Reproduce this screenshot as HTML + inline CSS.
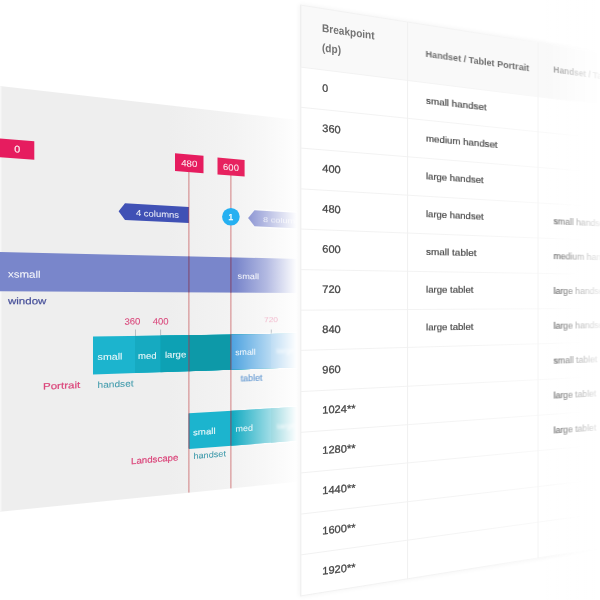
<!DOCTYPE html>
<html lang="en">
<head>
<meta charset="utf-8">
<title>Responsive breakpoints</title>
<style>
html,body{margin:0;padding:0;background:#fff;}
body{width:600px;height:600px;overflow:hidden;font-family:"Liberation Sans",Arial,sans-serif;}
svg{display:block;}
</style>
</head>
<body>
<svg width="600" height="600" viewBox="0 0 600 600">
<defs>
<linearGradient id="panel" gradientUnits="userSpaceOnUse" x1="168" y1="0" x2="298" y2="0"><stop offset="0" stop-color="#eeeeee"/><stop offset="0.5" stop-color="#f3f3f3"/><stop offset="0.72" stop-color="#f7f7f7"/><stop offset="0.92" stop-color="#fcfcfc"/><stop offset="1" stop-color="#ffffff"/></linearGradient>
<linearGradient id="fadeL" gradientUnits="userSpaceOnUse" x1="232" y1="0" x2="297" y2="0"><stop offset="0" stop-color="#fff" stop-opacity="0"/><stop offset="0.5" stop-color="#fff" stop-opacity="0.5"/><stop offset="1" stop-color="#fff" stop-opacity="1"/></linearGradient>
<linearGradient id="winbar" gradientUnits="userSpaceOnUse" x1="236" y1="0" x2="297" y2="0"><stop offset="0" stop-color="#7986cb"/><stop offset="0.5" stop-color="#b3bae2"/><stop offset="1" stop-color="#ffffff"/></linearGradient>
<linearGradient id="rowline" gradientUnits="userSpaceOnUse" x1="300" y1="0" x2="600" y2="0"><stop offset="0" stop-color="#f1f1f1"/><stop offset="0.55" stop-color="#f4f4f4"/><stop offset="0.85" stop-color="#fafafa"/><stop offset="1" stop-color="#ffffff"/></linearGradient>
<linearGradient id="fadeT" gradientUnits="userSpaceOnUse" x1="546" y1="0" x2="608" y2="0"><stop offset="0" stop-color="#fff" stop-opacity="0"/><stop offset="0.5" stop-color="#fff" stop-opacity="0.62"/><stop offset="1" stop-color="#fff" stop-opacity="1"/></linearGradient>
<linearGradient id="shadL" gradientUnits="userSpaceOnUse" x1="292" y1="0" x2="300" y2="0"><stop offset="0" stop-color="#000" stop-opacity="0"/><stop offset="1" stop-color="#000" stop-opacity="0.07"/></linearGradient>
<filter id="b0" filterUnits="userSpaceOnUse" x="-20" y="-20" width="640" height="640"><feGaussianBlur stdDeviation="0.45"/></filter>
<filter id="b1" x="-20%" y="-50%" width="140%" height="200%"><feGaussianBlur stdDeviation="0.4"/></filter>
<filter id="b2" x="-20%" y="-50%" width="140%" height="200%"><feGaussianBlur stdDeviation="0.7"/></filter>
<filter id="b2v" x="-20%" y="-50%" width="140%" height="200%"><feGaussianBlur stdDeviation="0.6 0.9"/></filter>
<filter id="b3" x="-20%" y="-50%" width="140%" height="200%"><feGaussianBlur stdDeviation="1.1"/></filter>
<filter id="bs" x="-20%" y="-20%" width="140%" height="140%"><feGaussianBlur stdDeviation="2.5"/></filter>
</defs>
<rect width="600" height="600" fill="#ffffff"/>
<g id="chart" font-family="'Liberation Sans', Arial, sans-serif" filter="url(#b0)">
<polygon points="0.00,86.00 300.00,120.32 300.00,481.38 0.00,511.80" fill="url(#panel)"/>
<polygon points="0.00,86.00 1.40,86.16 1.40,511.66 0.00,511.80" fill="#f7f7f7"/>
<polygon points="0.00,138.40 34.30,141.34 34.30,159.82 0.00,157.20" fill="#e61c5e" />
<text transform="matrix(0.9914 0.0786 0 0.9914 17.20 152.50)" font-size="9.61" fill="#fff" text-anchor="middle" font-weight="400" textLength="6.01" lengthAdjust="spacingAndGlyphs" stroke="#fff" stroke-width="0.16"  fill-opacity="0.9">0</text>
<text transform="matrix(0.9960 0.0024 0 0.9960 8.00 304.30)" font-size="9.7" fill="#48519a" text-anchor="start" font-weight="400" textLength="38.55" lengthAdjust="spacingAndGlyphs" stroke="#48519a" stroke-width="0.2" >window</text>
<polygon points="118.60,211.27 125.00,203.30 189.00,206.93 189.00,222.96 125.00,219.90" fill="#3f51b5"/>
<text transform="matrix(0.9317 0.0468 0 0.9317 136.00 215.80)" font-size="9.17" fill="#fff" text-anchor="start" font-weight="400" textLength="46.15" lengthAdjust="spacingAndGlyphs" stroke="#fff" stroke-width="0.04"  fill-opacity="0.9">4 columns</text>
<polygon points="248.20,217.97 254.50,210.30 300.00,212.89 300.00,228.47 254.50,226.30" fill="#6874c5"/>
<text transform="matrix(0.8678 0.0437 0 0.8678 263.00 222.00)" font-size="8.54" fill="#fff" text-anchor="start" font-weight="400" textLength="48.40" lengthAdjust="spacingAndGlyphs" filter="url(#b1)" opacity="0.72">8 columns</text>
<polygon points="93.00,336.60 300.00,333.59 300.00,367.35 93.00,374.50" fill="#1cb4ce" />
<polygon points="135.00,335.99 300.00,333.59 300.00,367.35 135.00,373.05" fill="#13aac1" />
<polygon points="160.50,335.62 300.00,333.59 300.00,367.35 160.50,372.17" fill="#0ba1b4" />
<polygon points="189.00,335.20 300.00,333.59 300.00,367.35 189.00,371.19" fill="#0899a8" />
<polygon points="231.00,334.59 300.00,333.59 300.00,367.35 231.00,369.74" fill="#4ea3e0" />
<polygon points="271.00,334.01 300.00,333.59 300.00,367.35 271.00,368.35" fill="#5ca9e2" />
<text transform="matrix(0.9510 -0.0257 0 0.9510 97.60 360.10)" font-size="9.52" fill="#fff" text-anchor="start" font-weight="400" textLength="26.08" lengthAdjust="spacingAndGlyphs" stroke="#fff" stroke-width="0.08"  fill-opacity="0.9">small</text>
<text transform="matrix(0.9307 -0.0252 0 0.9307 138.00 359.10)" font-size="9.52" fill="#fff" text-anchor="start" font-weight="400" textLength="19.99" lengthAdjust="spacingAndGlyphs" stroke="#fff" stroke-width="0.08"  fill-opacity="0.9">med</text>
<text transform="matrix(0.9171 -0.0246 0 0.9171 165.00 357.90)" font-size="9.52" fill="#fff" text-anchor="start" font-weight="400" textLength="23.12" lengthAdjust="spacingAndGlyphs" stroke="#fff" stroke-width="0.08"  fill-opacity="0.9">large</text>
<text transform="matrix(0.8818 -0.0232 0 0.8818 235.20 355.20)" font-size="9.43" fill="#fff" text-anchor="start" font-weight="400" textLength="23.36" lengthAdjust="spacingAndGlyphs" stroke="#fff" stroke-width="0.04"  fill-opacity="0.9">small</text>
<text transform="matrix(0.8611 -0.0223 0 0.8611 276.50 353.40)" font-size="9.08" fill="#fff" text-anchor="start" font-weight="400" textLength="21.49" lengthAdjust="spacingAndGlyphs" filter="url(#b3)" fill-opacity="0.9">large</text>
<text transform="matrix(0.9784 -0.0405 0 0.9784 43.00 389.50)" font-size="9.35" fill="#db487c" text-anchor="start" font-weight="400" textLength="38.02" lengthAdjust="spacingAndGlyphs" stroke="#db487c" stroke-width="0.2" >Portrait</text>
<text transform="matrix(0.9510 -0.0396 0 0.9510 97.60 387.90)" font-size="9.43" fill="#3f9aab" text-anchor="start" font-weight="400" textLength="37.86" lengthAdjust="spacingAndGlyphs" stroke="#3f9aab" stroke-width="0.06" >handset</text>
<text transform="matrix(0.8791 -0.0365 0 0.8791 240.60 381.60)" font-size="9.79" fill="#5690cf" text-anchor="start" font-weight="400" textLength="24.80" lengthAdjust="spacingAndGlyphs" stroke="#5690cf" stroke-width="0.12" filter="url(#b1)" opacity="0.95">tablet</text>
<text transform="matrix(0.9335 -0.0078 0 0.9335 132.40 324.60)" font-size="9.97" fill="#da4a7d" text-anchor="middle" font-weight="400" textLength="17.14" lengthAdjust="spacingAndGlyphs" stroke="#da4a7d" stroke-width="0.1" >360</text>
<text transform="matrix(0.9193 -0.0077 0 0.9193 160.60 324.40)" font-size="9.97" fill="#da4a7d" text-anchor="middle" font-weight="400" textLength="17.19" lengthAdjust="spacingAndGlyphs" stroke="#da4a7d" stroke-width="0.1" >400</text>
<text transform="matrix(0.8638 -0.0066 0 0.8638 271.00 322.20)" font-size="8.72" fill="#e8608f" text-anchor="middle" font-weight="400" textLength="16.35" lengthAdjust="spacingAndGlyphs" filter="url(#b2)" opacity="0.42">720</text>
<line x1="135.5" y1="329.5" x2="135.5" y2="336.0" stroke="#7a8a94" stroke-opacity="0.8" stroke-width="0.6"/>
<line x1="160.6" y1="329.5" x2="160.6" y2="335.7" stroke="#7a8a94" stroke-opacity="0.8" stroke-width="0.6"/>
<line x1="271.3" y1="329.5" x2="271.3" y2="334.4" stroke="#7a8a94" stroke-opacity="0.8" stroke-width="0.6"/>
<polygon points="189.00,413.20 300.00,406.78 300.00,440.37 189.00,449.00" fill="#1cb4ce" />
<polygon points="231.00,410.77 300.00,406.78 300.00,440.37 231.00,445.74" fill="#13aac1" />
<polygon points="271.00,408.46 300.00,406.78 300.00,440.37 271.00,442.63" fill="#0ba1b4" />
<text transform="matrix(0.9030 -0.0635 0 0.9030 193.00 435.40)" font-size="9.35" fill="#fff" text-anchor="start" font-weight="400" textLength="25.03" lengthAdjust="spacingAndGlyphs" stroke="#fff" stroke-width="0.08"  fill-opacity="0.9">small</text>
<text transform="matrix(0.8816 -0.0617 0 0.8816 235.60 431.80)" font-size="9.61" fill="#fff" text-anchor="start" font-weight="400" textLength="19.74" lengthAdjust="spacingAndGlyphs" stroke="#fff" stroke-width="0.04"  fill-opacity="0.9">med</text>
<text transform="matrix(0.8608 -0.0603 0 0.8608 277.00 429.00)" font-size="9.26" fill="#fff" text-anchor="start" font-weight="400" textLength="22.07" lengthAdjust="spacingAndGlyphs" filter="url(#b3)" fill-opacity="0.9">large</text>
<text transform="matrix(0.9342 -0.0780 0 0.9342 131.00 464.20)" font-size="9.35" fill="#db487c" text-anchor="start" font-weight="400" textLength="50.74" lengthAdjust="spacingAndGlyphs" stroke="#db487c" stroke-width="0.2" >Landscape</text>
<text transform="matrix(0.9028 -0.0754 0 0.9028 193.40 459.00)" font-size="9.26" fill="#3f9aab" text-anchor="start" font-weight="400" textLength="36.11" lengthAdjust="spacingAndGlyphs" stroke="#3f9aab" stroke-width="0.06" >handset</text>
<clipPath id="barsclip">
<polygon points="230.00,333.22 302.00,332.22 302.00,368.62 230.00,371.16"/>
<polygon points="230.00,409.36 302.00,405.26 302.00,441.62 230.00,447.28"/>
<polygon points="248.20,217.97 254.50,208.80 300.00,211.39 300.00,229.97 254.50,227.80"/>
</clipPath>
<rect x="232" y="80" width="70" height="440" fill="url(#fadeL)" clip-path="url(#barsclip)"/>
<polygon points="0.00,252.00 300.00,258.90 300.00,293.10 0.00,291.20" fill="url(#winbar)"/>
<text transform="matrix(0.9960 0.0159 0 0.9960 8.00 277.30)" font-size="9.7" fill="#fff" text-anchor="start" font-weight="400" textLength="32.73" lengthAdjust="spacingAndGlyphs" stroke="#fff" stroke-width="0.08"  fill-opacity="0.9">xsmall</text>
<text transform="matrix(0.8806 0.0152 0 0.8806 237.60 278.80)" font-size="9.17" fill="#fff" text-anchor="start" font-weight="400" textLength="24.30" lengthAdjust="spacingAndGlyphs" stroke="#fff" stroke-width="0.04"  fill-opacity="0.9">small</text>
<line x1="188.9" y1="171.0" x2="188.9" y2="492.6" stroke="#c4474b" stroke-opacity="0.75" stroke-width="0.9"/>
<line x1="188.9" y1="256.34" x2="188.9" y2="292.39" stroke="#5b4f8e" stroke-opacity="0.8" stroke-width="0.9"/>
<line x1="188.9" y1="335.20" x2="188.9" y2="371.19" stroke="#4f5f80" stroke-opacity="0.8" stroke-width="0.9"/>
<line x1="188.9" y1="413.41" x2="188.9" y2="448.61" stroke="#4f5f80" stroke-opacity="0.8" stroke-width="0.9"/>
<line x1="230.9" y1="175.0" x2="230.9" y2="488.4" stroke="#c4474b" stroke-opacity="0.75" stroke-width="0.9"/>
<line x1="230.9" y1="257.31" x2="230.9" y2="292.65" stroke="#5b4f8e" stroke-opacity="0.8" stroke-width="0.9"/>
<line x1="230.9" y1="334.59" x2="230.9" y2="369.74" stroke="#4f5f80" stroke-opacity="0.8" stroke-width="0.9"/>
<line x1="230.9" y1="410.97" x2="230.9" y2="445.35" stroke="#4f5f80" stroke-opacity="0.8" stroke-width="0.9"/>
<polygon points="175.00,153.30 203.50,155.74 203.50,173.17 175.00,171.00" fill="#e61c5e" />
<text transform="matrix(0.9049 0.0716 0 0.9049 189.20 166.60)" font-size="9.97" fill="#fff" text-anchor="middle" font-weight="400" textLength="17.68" lengthAdjust="spacingAndGlyphs" stroke="#fff" stroke-width="0.06"  fill-opacity="0.9">480</text>
<polygon points="217.50,157.60 244.60,159.91 244.60,176.46 217.50,174.40" fill="#e7235f" />
<text transform="matrix(0.8839 0.0696 0 0.8839 231.00 170.40)" font-size="9.97" fill="#fff" text-anchor="middle" font-weight="400" textLength="17.87" lengthAdjust="spacingAndGlyphs" stroke="#fff" stroke-width="0.06"  fill-opacity="0.9">600</text>
<circle cx="230.9" cy="216.8" r="8.8" fill="#25b0f1"/>
<text x="230.9" y="220.0" font-size="9.2" fill="#fff" text-anchor="middle" stroke="#fff" stroke-width="0.25">1</text>
</g>
<g id="table" font-family="'Liberation Sans', Arial, sans-serif" filter="url(#b0)">
<polygon points="299.00,4.00 600.00,51.66 600.00,548.86 299.00,597.00" fill="#000" opacity="0.045" filter="url(#bs)"/>
<polygon points="300.00,5.00 600.00,52.50 600.00,548.02 300.00,596.00" fill="#ffffff" />
<polygon points="300.00,5.00 600.00,52.50 600.00,104.48 300.00,67.00" fill="#f9f9f9" />
<line x1="300.8" y1="5" x2="300.8" y2="596" stroke="#ebebeb" stroke-width="1"/>
<line x1="300.00" y1="5.00" x2="600.00" y2="52.50" stroke="url(#rowline)" stroke-width="1" />
<line x1="300.00" y1="67.00" x2="600.00" y2="104.48" stroke="url(#rowline)" stroke-width="1" />
<line x1="300.00" y1="107.20" x2="600.00" y2="138.19" stroke="url(#rowline)" stroke-width="1" />
<line x1="300.00" y1="148.00" x2="600.00" y2="172.39" stroke="url(#rowline)" stroke-width="1" />
<line x1="300.00" y1="188.80" x2="600.00" y2="206.60" stroke="url(#rowline)" stroke-width="1" />
<line x1="300.00" y1="229.00" x2="600.00" y2="240.31" stroke="url(#rowline)" stroke-width="1" />
<line x1="300.00" y1="269.60" x2="600.00" y2="274.35" stroke="url(#rowline)" stroke-width="1" />
<line x1="300.00" y1="310.20" x2="600.00" y2="308.39" stroke="url(#rowline)" stroke-width="1" />
<line x1="300.00" y1="350.40" x2="600.00" y2="342.10" stroke="url(#rowline)" stroke-width="1" />
<line x1="300.00" y1="391.60" x2="600.00" y2="376.64" stroke="url(#rowline)" stroke-width="1" />
<line x1="300.00" y1="432.40" x2="600.00" y2="410.85" stroke="url(#rowline)" stroke-width="1" />
<line x1="300.00" y1="473.00" x2="600.00" y2="444.89" stroke="url(#rowline)" stroke-width="1" />
<line x1="300.00" y1="514.20" x2="600.00" y2="479.43" stroke="url(#rowline)" stroke-width="1" />
<line x1="300.00" y1="555.00" x2="600.00" y2="513.64" stroke="url(#rowline)" stroke-width="1" />
<line x1="300.00" y1="596.00" x2="600.00" y2="548.02" stroke="url(#rowline)" stroke-width="1" />
<line x1="407.60" y1="22.04" x2="407.60" y2="578.79" stroke="#f0f0f0" stroke-width="1" />
<line x1="538.00" y1="42.68" x2="538.00" y2="557.94" stroke="#f4f4f4" stroke-width="1" />
<text transform="matrix(0.9882 0.1439 0 0.9882 322.00 31.80)" font-size="11.34" fill="#737373" font-weight="700" textLength="53.23" lengthAdjust="spacingAndGlyphs" >Breakpoint</text>
<text transform="matrix(0.9882 0.1334 0 0.9882 322.00 51.30)" font-size="11.34" fill="#737373" font-weight="700" textLength="19.23" lengthAdjust="spacingAndGlyphs" >(dp)</text>
<text transform="matrix(0.9880 0.1117 0 0.9880 322.30 91.50)" font-size="10.86" fill="#484848" font-weight="400" textLength="5.97" lengthAdjust="spacingAndGlyphs" stroke="#484848" stroke-width="0.3" >0</text>
<text transform="matrix(0.9880 0.0901 0 0.9880 322.30 131.77)" font-size="10.86" fill="#484848" font-weight="400" textLength="18.62" lengthAdjust="spacingAndGlyphs" stroke="#484848" stroke-width="0.3" >360</text>
<text transform="matrix(0.9880 0.0684 0 0.9880 322.30 172.04)" font-size="10.86" fill="#484848" font-weight="400" textLength="18.62" lengthAdjust="spacingAndGlyphs" stroke="#484848" stroke-width="0.3" >400</text>
<text transform="matrix(0.9880 0.0467 0 0.9880 322.30 212.31)" font-size="10.86" fill="#484848" font-weight="400" textLength="18.62" lengthAdjust="spacingAndGlyphs" stroke="#484848" stroke-width="0.3" >480</text>
<text transform="matrix(0.9880 0.0250 0 0.9880 322.30 252.58)" font-size="10.86" fill="#484848" font-weight="400" textLength="18.62" lengthAdjust="spacingAndGlyphs" stroke="#484848" stroke-width="0.3" >600</text>
<text transform="matrix(0.9880 0.0033 0 0.9880 322.30 292.85)" font-size="10.86" fill="#484848" font-weight="400" textLength="18.62" lengthAdjust="spacingAndGlyphs" stroke="#484848" stroke-width="0.3" >720</text>
<text transform="matrix(0.9880 -0.0151 0 0.9880 322.30 333.12)" font-size="10.86" fill="#484848" font-weight="400" textLength="18.62" lengthAdjust="spacingAndGlyphs" stroke="#484848" stroke-width="0.3" >840</text>
<text transform="matrix(0.9880 -0.0328 0 0.9880 322.30 373.39)" font-size="10.86" fill="#484848" font-weight="400" textLength="18.62" lengthAdjust="spacingAndGlyphs" stroke="#484848" stroke-width="0.3" >960</text>
<text transform="matrix(0.9880 -0.0506 0 0.9880 322.30 413.66)" font-size="10.86" fill="#484848" font-weight="400" textLength="33.60" lengthAdjust="spacingAndGlyphs" stroke="#484848" stroke-width="0.3" >1024**</text>
<text transform="matrix(0.9880 -0.0684 0 0.9880 322.30 453.93)" font-size="10.86" fill="#484848" font-weight="400" textLength="33.60" lengthAdjust="spacingAndGlyphs" stroke="#484848" stroke-width="0.3" >1280**</text>
<text transform="matrix(0.9880 -0.0862 0 0.9880 322.30 494.20)" font-size="10.86" fill="#484848" font-weight="400" textLength="33.60" lengthAdjust="spacingAndGlyphs" stroke="#484848" stroke-width="0.3" >1440**</text>
<text transform="matrix(0.9880 -0.1040 0 0.9880 322.30 534.47)" font-size="10.86" fill="#484848" font-weight="400" textLength="33.60" lengthAdjust="spacingAndGlyphs" stroke="#484848" stroke-width="0.3" >1600**</text>
<text transform="matrix(0.9880 -0.1218 0 0.9880 322.30 574.74)" font-size="10.86" fill="#484848" font-weight="400" textLength="33.60" lengthAdjust="spacingAndGlyphs" stroke="#484848" stroke-width="0.3" >1920**</text>
<text transform="matrix(0.9324 0.1304 0 0.9324 425.60 56.80)" font-size="10.7" fill="#6c6c6c" font-weight="700" textLength="111.01" lengthAdjust="spacingAndGlyphs" filter="url(#b1)">Handset / Tablet Portrait</text>
<text transform="matrix(0.9321 0.1052 0 0.9321 426.00 103.70)" font-size="9.94" fill="#484848" font-weight="400" textLength="64.90" lengthAdjust="spacingAndGlyphs" stroke="#484848" stroke-width="0.2" filter="url(#b1)">small handset</text>
<text transform="matrix(0.9321 0.0848 0 0.9321 426.00 141.50)" font-size="9.94" fill="#484848" font-weight="400" textLength="76.70" lengthAdjust="spacingAndGlyphs" stroke="#484848" stroke-width="0.2" filter="url(#b1)">medium handset</text>
<text transform="matrix(0.9321 0.0645 0 0.9321 426.00 179.30)" font-size="9.94" fill="#484848" font-weight="400" textLength="61.69" lengthAdjust="spacingAndGlyphs" stroke="#484848" stroke-width="0.2" filter="url(#b1)">large handset</text>
<text transform="matrix(0.9321 0.0441 0 0.9321 426.00 217.10)" font-size="9.94" fill="#484848" font-weight="400" textLength="61.69" lengthAdjust="spacingAndGlyphs" stroke="#484848" stroke-width="0.2" filter="url(#b1)">large handset</text>
<text transform="matrix(0.9321 0.0237 0 0.9321 426.00 254.90)" font-size="9.94" fill="#484848" font-weight="400" textLength="54.18" lengthAdjust="spacingAndGlyphs" stroke="#484848" stroke-width="0.2" filter="url(#b1)">small tablet</text>
<text transform="matrix(0.9321 0.0034 0 0.9321 426.00 292.70)" font-size="9.94" fill="#484848" font-weight="400" textLength="50.96" lengthAdjust="spacingAndGlyphs" stroke="#484848" stroke-width="0.2" filter="url(#b1)">large tablet</text>
<text transform="matrix(0.9321 -0.0139 0 0.9321 426.00 330.50)" font-size="9.94" fill="#484848" font-weight="400" textLength="50.96" lengthAdjust="spacingAndGlyphs" stroke="#484848" stroke-width="0.2" filter="url(#b1)">large tablet</text>
<text transform="matrix(0.8635 0.1219 0 0.8635 553.40 72.60)" font-size="10.27" fill="#8f8f8f" font-weight="700" textLength="126.26" lengthAdjust="spacingAndGlyphs" filter="url(#b2)">Handset / Tablet Landscape</text>
<text transform="matrix(0.8634 0.0403 0 0.8634 553.60 224.20)" font-size="11.04" fill="#4a4a4a" font-weight="400" textLength="61.70" lengthAdjust="spacingAndGlyphs" stroke="#4a4a4a" stroke-width="0.2" filter="url(#b2v)">small handset</text>
<text transform="matrix(0.8634 0.0215 0 0.8634 553.60 259.08)" font-size="11.04" fill="#4a4a4a" font-weight="400" textLength="73.93" lengthAdjust="spacingAndGlyphs" stroke="#4a4a4a" stroke-width="0.2" filter="url(#b2v)">medium handset</text>
<text transform="matrix(0.8634 0.0027 0 0.8634 553.60 293.96)" font-size="11.04" fill="#4a4a4a" font-weight="400" textLength="60.60" lengthAdjust="spacingAndGlyphs" stroke="#4a4a4a" stroke-width="0.2" filter="url(#b2v)">large handset</text>
<text transform="matrix(0.8634 -0.0132 0 0.8634 553.60 328.84)" font-size="11.04" fill="#4a4a4a" font-weight="400" textLength="60.60" lengthAdjust="spacingAndGlyphs" stroke="#4a4a4a" stroke-width="0.2" filter="url(#b2v)">large handset</text>
<text transform="matrix(0.8634 -0.0286 0 0.8634 553.60 363.72)" font-size="11.04" fill="#4a4a4a" font-weight="400" textLength="50.58" lengthAdjust="spacingAndGlyphs" stroke="#4a4a4a" stroke-width="0.2" filter="url(#b2v)">small tablet</text>
<text transform="matrix(0.8634 -0.0440 0 0.8634 553.60 398.60)" font-size="11.04" fill="#4a4a4a" font-weight="400" textLength="49.48" lengthAdjust="spacingAndGlyphs" stroke="#4a4a4a" stroke-width="0.2" filter="url(#b2v)">large tablet</text>
<text transform="matrix(0.8634 -0.0594 0 0.8634 553.60 433.48)" font-size="11.04" fill="#4a4a4a" font-weight="400" textLength="49.48" lengthAdjust="spacingAndGlyphs" stroke="#4a4a4a" stroke-width="0.2" filter="url(#b2v)">large tablet</text>
<rect x="546" y="0" width="54" height="600" fill="url(#fadeT)"/>
</g>
</svg>
</body>
</html>
